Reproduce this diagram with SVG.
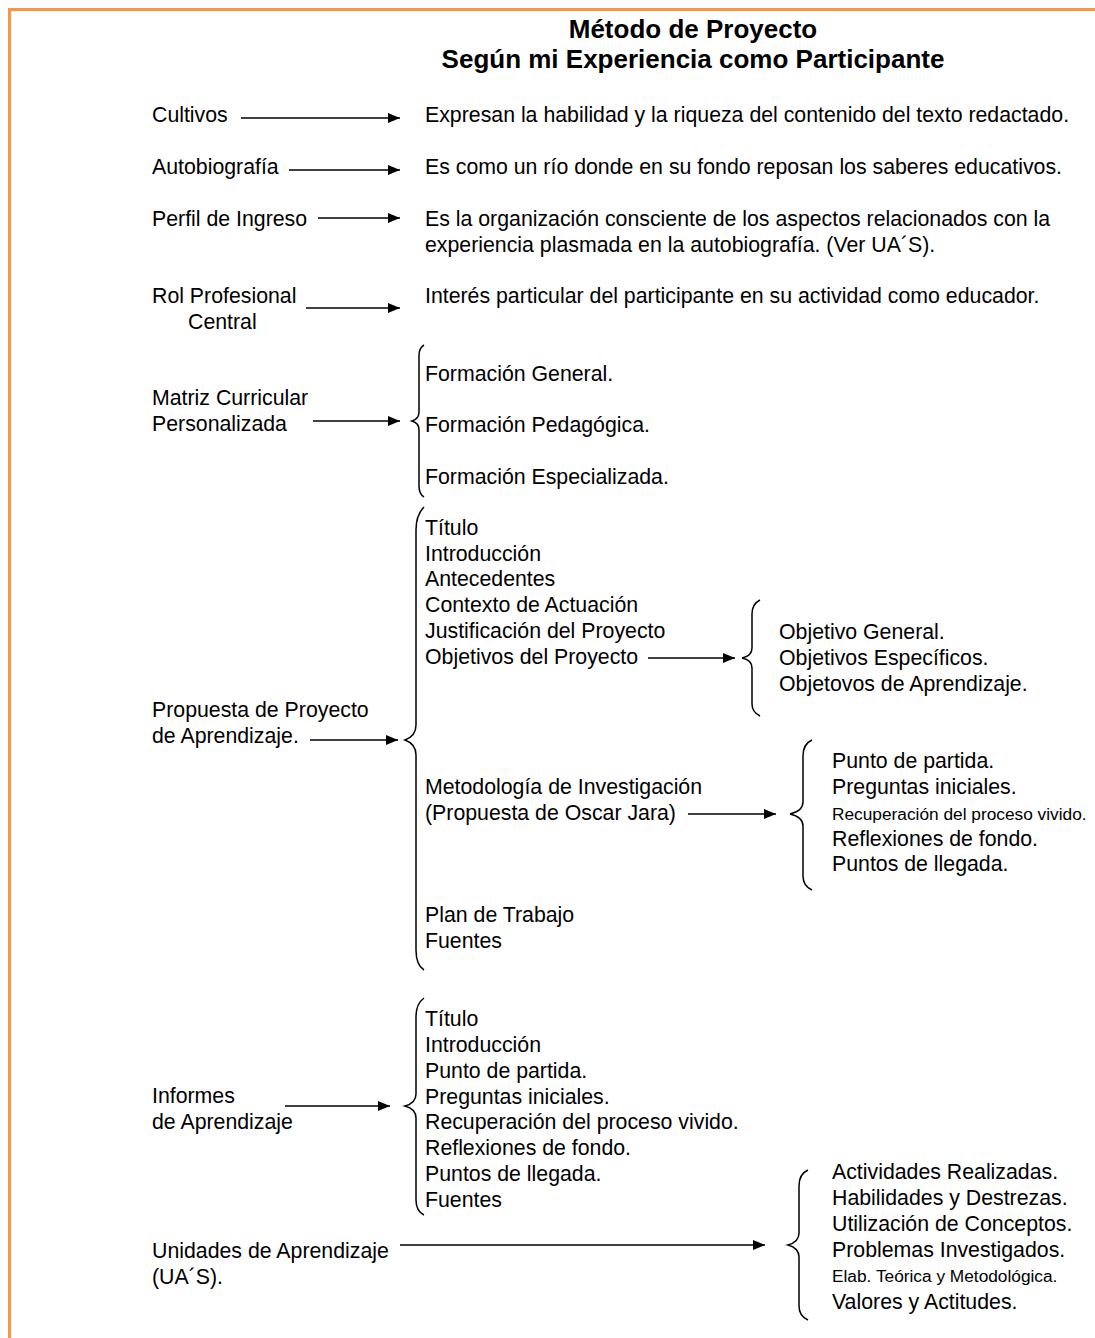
<svg xmlns="http://www.w3.org/2000/svg" width="1095" height="1338" viewBox="0 0 1095 1338">
<defs>
<marker id="ah" markerWidth="12" markerHeight="10" refX="12" refY="5" orient="auto" markerUnits="userSpaceOnUse"><path d="M0,0 L12,5 L0,10 Z" fill="#000"/></marker>
<style>
text{font-family:"Liberation Sans",Arial,sans-serif;font-size:21.3px;fill:#000}
.t{font-weight:bold;font-size:26px;text-anchor:middle}
.s{font-size:17.3px}
.a{stroke:#000;stroke-width:1.5;fill:none;marker-end:url(#ah)}
.b{stroke:#000;stroke-width:1.5;fill:none}
</style>
</defs>
<rect width="1095" height="1338" fill="#fff"/>
<path d="M9.5,1338 V9.5 H1095" fill="none" stroke="#F79646" stroke-width="3"/>
<g id="title"><text class="t" x="693" y="38">Método de Proyecto</text><text class="t" x="693" y="68">Según mi Experiencia como Participante</text></g>
<g id="cultivos"><text x="152" y="122">Cultivos</text><text x="425" y="122">Expresan la habilidad y la riqueza del contenido del texto redactado.</text></g>
<g id="autobiografia"><text x="152" y="174">Autobiografía</text><text x="425" y="174">Es como un río donde en su fondo reposan los saberes educativos.</text></g>
<g id="perfil"><text x="152" y="226">Perfil de Ingreso</text><text x="425" y="226">Es la organización consciente de los aspectos relacionados con la</text><text x="425" y="252">experiencia plasmada en la autobiografía. (Ver UA´S).</text></g>
<g id="rol"><text x="152" y="303">Rol Profesional</text><text x="188" y="329">Central</text><text x="425" y="303">Interés particular del participante en su actividad como educador.</text></g>
<g id="matriz"><text x="152" y="405">Matriz Curricular</text><text x="152" y="431">Personalizada</text>
<text x="425" y="381">Formación General.</text><text x="425" y="432">Formación Pedagógica.</text><text x="425" y="484">Formación Especializada.</text></g>
<g id="propuesta"><text x="152" y="717">Propuesta de Proyecto</text><text x="152" y="743">de Aprendizaje.</text>
<text x="425" y="535">Título</text><text x="425" y="561">Introducción</text><text x="425" y="586">Antecedentes</text><text x="425" y="612">Contexto de Actuación</text><text x="425" y="638">Justificación del Proyecto</text><text x="425" y="664">Objetivos del Proyecto</text>
<text x="425" y="794">Metodología de Investigación</text><text x="425" y="820">(Propuesta de Oscar Jara)</text>
<text x="425" y="922">Plan de Trabajo</text><text x="425" y="948">Fuentes</text></g>
<g id="objetivos"><text x="779" y="639">Objetivo General.</text><text x="779" y="665">Objetivos Específicos.</text><text x="779" y="691">Objetovos de Aprendizaje.</text></g>
<g id="metodologia"><text x="832" y="768">Punto de partida.</text><text x="832" y="794">Preguntas iniciales.</text><text class="s" x="832" y="820">Recuperación del proceso vivido.</text><text x="832" y="846">Reflexiones de fondo.</text><text x="832" y="871">Puntos de llegada.</text></g>
<g id="informes"><text x="152" y="1103">Informes</text><text x="152" y="1129">de Aprendizaje</text>
<text x="425" y="1026">Título</text><text x="425" y="1052">Introducción</text><text x="425" y="1078">Punto de partida.</text><text x="425" y="1104">Preguntas iniciales.</text><text x="425" y="1129">Recuperación del proceso vivido.</text><text x="425" y="1155">Reflexiones de fondo.</text><text x="425" y="1181">Puntos de llegada.</text><text x="425" y="1207">Fuentes</text></g>
<g id="unidades"><text x="152" y="1258">Unidades de Aprendizaje</text><text x="152" y="1284">(UA´S).</text>
<text x="832" y="1179">Actividades Realizadas.</text><text x="832" y="1205">Habilidades y Destrezas.</text><text x="832" y="1231">Utilización de Conceptos.</text><text x="832" y="1257">Problemas Investigados.</text><text class="s" x="832" y="1282">Elab. Teórica y Metodológica.</text><text x="832" y="1309">Valores y Actitudes.</text></g>
<g id="connectors">
<line class="a" x1="241" y1="118" x2="400" y2="118"/>
<line class="a" x1="289" y1="170" x2="400" y2="170"/>
<line class="a" x1="318" y1="218" x2="400" y2="218"/>
<line class="a" x1="306" y1="308" x2="400" y2="308"/>
<line class="a" x1="313" y1="421" x2="400" y2="421"/>
<line class="a" x1="310" y1="740" x2="398" y2="740"/>
<line class="a" x1="648" y1="658" x2="735" y2="658"/>
<line class="a" x1="688" y1="814" x2="776" y2="814"/>
<line class="a" x1="285" y1="1106" x2="390" y2="1106"/>
<line class="a" x1="400" y1="1245" x2="765" y2="1245"/>
<path class="b" d="M424,345 Q419,348 419,356 V412 Q419,419 412,421 Q419,423 419,430 V486 Q419,494 424,497"/>
<path class="b" d="M424,507 Q416,515 416,530 V725 Q416,736 405,740 Q416,744 416,755 V950 Q416,965 424,970"/>
<path class="b" d="M760,600 Q752,604 752,614 V648 Q752,656 742,658 Q752,660 752,668 V704 Q752,712 760,716"/>
<path class="b" d="M812,740 Q803,744 803,756 V802 Q803,811 790,814 Q803,817 803,826 V876 Q803,886 812,890"/>
<path class="b" d="M424,998 Q416,1004 416,1016 V1094 Q416,1103 405,1106 Q416,1109 416,1118 V1200 Q416,1211 424,1215"/>
<path class="b" d="M808,1170 Q799,1174 799,1186 V1233 Q799,1242 788,1245 Q799,1248 799,1257 V1306 Q799,1316 808,1320"/>
</g>
</svg>
